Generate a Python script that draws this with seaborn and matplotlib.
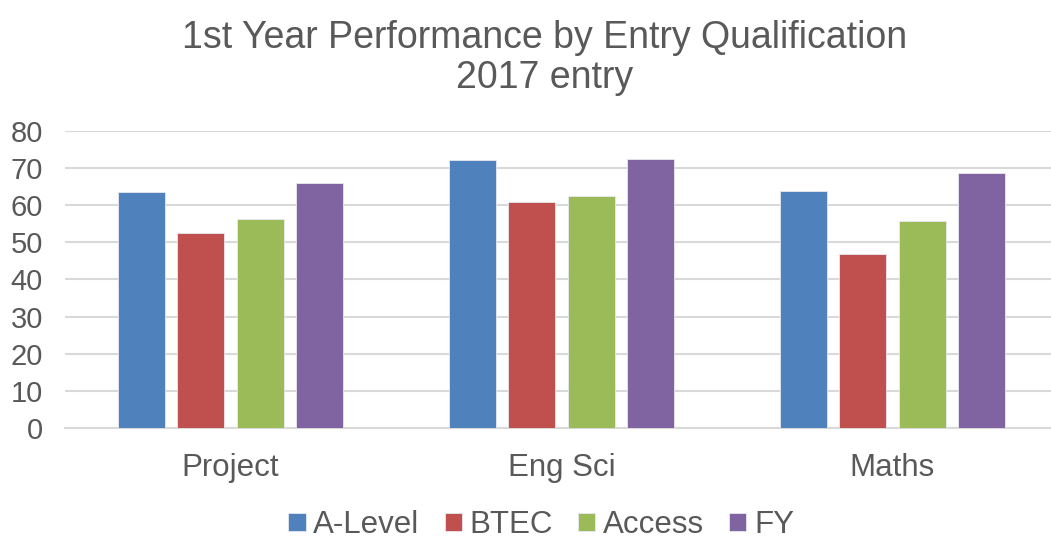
import pandas as pd
import seaborn as sns
import matplotlib
matplotlib.use('Agg')
import matplotlib.pyplot as plt

courses = ["Project", "Eng Sci", "Maths"]
qualifications = ["A-Level", "BTEC", "Access", "FY"]
a_level = [63.5, 72.2, 63.7]
btec = [52.4, 60.7, 46.9]
access = [56.2, 62.5, 55.6]
fy = [65.9, 72.4, 68.5]
colours = ["#4F81BD", "#C0504D", "#9BBB59", "#8064A2"]

rows = []
for qual, vals in zip(qualifications, [a_level, btec, access, fy]):
    for course, v in zip(courses, vals):
        rows.append({"course": course, "qualification": qual, "score": v})
df = pd.DataFrame(rows)

sns.set_style("white")
plt.rcParams['font.family'] = ['Liberation Sans', 'DejaVu Sans']
grey = "#595959"

fig = plt.figure(figsize=(10.51, 5.38), dpi=100)
ax = fig.add_axes([65 / 1051, 1 - 428 / 538, 1 - 65 / 1051, (428 - 130.7) / 538])

sns.barplot(data=df, x="course", y="score", hue="qualification",
            order=courses, hue_order=qualifications, palette=colours,
            saturation=1, width=0.72, gap=0.21, ax=ax, legend=True,
            edgecolor="#e8e8f0", linewidth=0.6, zorder=3)

ax.set_ylim(0, 80)
ax.set_xlim(-0.5, 2.479)
ax.set_yticks(range(0, 81, 10))
ax.yaxis.grid(True, color="#d9d9d9", linewidth=1.5, zorder=0)
ax.set_axisbelow(True)
for side in ["top", "right", "left"]:
    ax.spines[side].set_visible(False)
ax.spines["bottom"].set_color("#d9d9d9")
ax.spines["bottom"].set_linewidth(1.5)
ax.tick_params(axis="y", length=0, labelsize=21, colors=grey, pad=16)
ax.tick_params(axis="x", length=0, labelsize=22.5, colors=grey, pad=18)
ax.set_xlabel("")
ax.set_ylabel("")

fig.suptitle("1st Year Performance by Entry Qualification\n2017 entry",
             x=0.518, y=0.962, fontsize=27, color=grey, linespacing=1.12)

handles, labels = ax.get_legend_handles_labels()
ax.get_legend().remove()
fig.legend(handles, labels, loc="center", bbox_to_anchor=(0.515, 1 - 525 / 538),
           ncol=4, frameon=False, fontsize=22.5, handlelength=0.55, handleheight=0.55,
           handletextpad=0.25, columnspacing=0.8, labelcolor=grey, borderpad=0)

fig.savefig("out.png", dpi=100)
